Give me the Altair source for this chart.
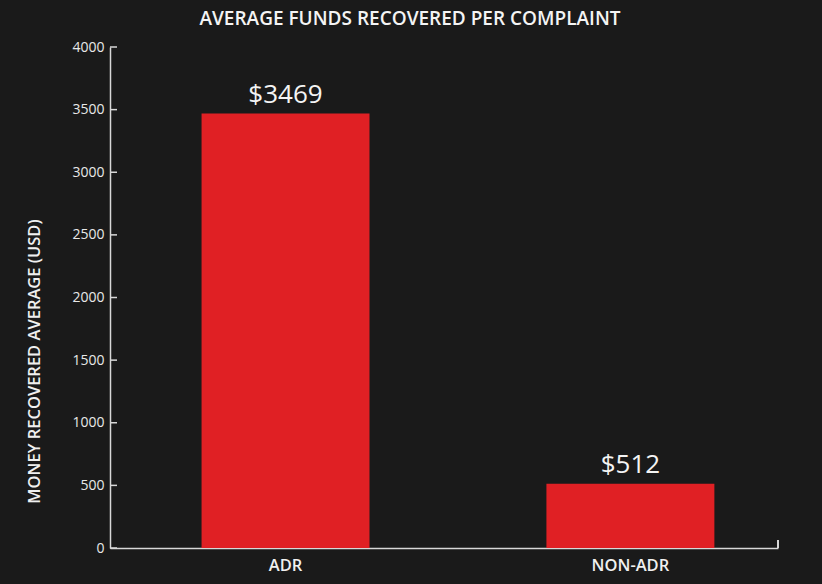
import altair as alt
import pandas as pd

categories = ["ADR", "NON-ADR"]
values = [3469, 512]
labels = ["$3469", "$512"]
y_ticks = [0, 500, 1000, 1500, 2000, 2500, 3000, 3500, 4000]

df = pd.DataFrame({"cat": categories, "val": values, "lab": labels})
ticks_df = pd.DataFrame({"t": y_ticks})

FONT = "Open Sans"
BG = "#1a1a1a"
RED = "#e02024"
AX = "#d8d8d8"

xscale = alt.Scale(domain=categories, paddingInner=0.513, paddingOuter=0.225, align=0.59)
yscale = alt.Scale(domain=[0, 4000], nice=False)

bars = alt.Chart(df).mark_bar(color=RED).encode(
    x=alt.X("cat:N", scale=xscale, sort=categories,
            axis=alt.Axis(title=None, labelAngle=0, ticks=False, labelFont=FONT,
                          labelFontSize=16.5, labelFontWeight=600, labelColor="#f0f0f0",
                          labelPadding=9, domainColor=AX, domainWidth=1.5)),
    y=alt.Y("val:Q", scale=yscale,
            axis=alt.Axis(title="MONEY RECOVERED AVERAGE (USD)", values=y_ticks, ticks=False,
                          format="d", grid=False, labelFont=FONT, labelFontSize=14,
                          labelColor="#e8e8e8",
                          labelPadding=6, domainColor=AX, domainWidth=1.5,
                          titleFont=FONT, titleFontSize=16.5, titleFontWeight=600,
                          titleColor="#f0f0f0", titleX=-76, titleY=314, titleAngle=270,
                          titleAlign="center", titleBaseline="middle")),
)

text = alt.Chart(df).mark_text(font=FONT, fontSize=26, color="#f4f4f4", baseline="alphabetic", dy=-11).encode(
    x=alt.X("cat:N", scale=xscale, sort=categories),
    y=alt.Y("val:Q", scale=yscale),
    text="lab:N",
)

yticks = alt.Chart(ticks_df).mark_rule(color=AX, strokeWidth=1.5).encode(
    y=alt.Y("t:Q", scale=yscale),
    x=alt.value(0),
    x2=alt.value(7),
)

endtick = alt.Chart(ticks_df).mark_rule(color=AX, strokeWidth=1.5).encode(
    x=alt.value(668),
    y=alt.value(501),
    y2=alt.value(493),
)

chart = alt.layer(bars, text, yticks, endtick).properties(
    width=668,
    height=501,
    background=BG,
    padding={"left": 110, "top": 47, "right": 44, "bottom": 36},
    autosize=alt.AutoSizeParams(type="none"),
    title=alt.TitleParams("AVERAGE FUNDS RECOVERED PER COMPLAINT", font=FONT, fontSize=19,
                          fontWeight=600, color="#f4f4f4", anchor="middle", dx=-34, dy=24,
                          baseline="alphabetic", offset=20),
).configure_view(stroke=None)

chart.save("out.html", embed_options={"renderer": "svg", "actions": False})
